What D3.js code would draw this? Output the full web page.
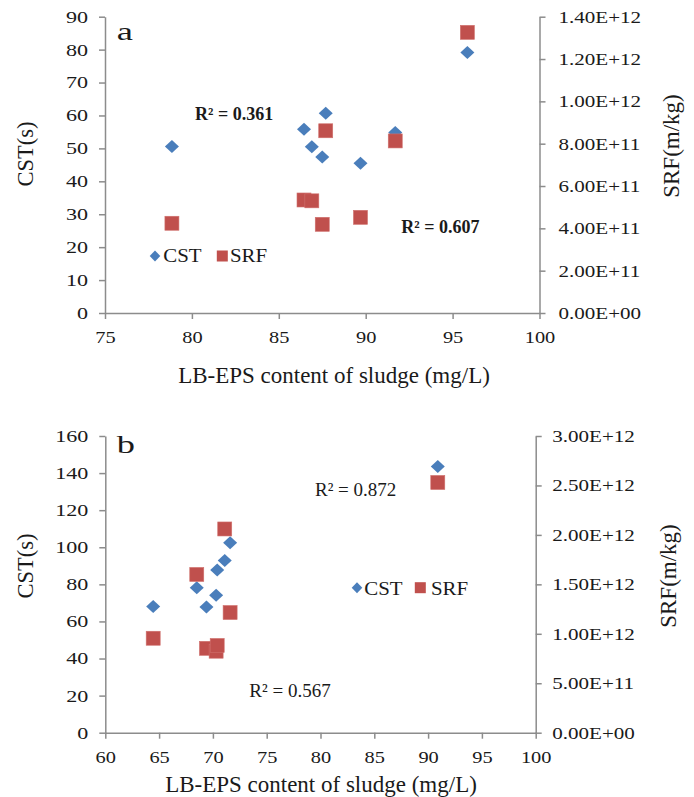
<!DOCTYPE html>
<html>
<head>
<meta charset="utf-8">
<script src="https://cdn.jsdelivr.net/npm/d3@7"></script>
<style>
  body { margin: 0; background: #fff; }
  svg { display: block; }
  text { font-family: "Liberation Serif", "Times New Roman", serif; fill: #1a1a1a; }
</style>
</head>
<body>
<svg id="chart" width="694" height="797"></svg>
<script>
// ---- panel a data ----
const lbA = [78.85, 86.45, 86.9, 87.5, 87.7, 89.7, 91.7, 95.85];
const cstA = [50.6, 55.8, 50.5, 47.4, 60.7, 45.5, 54.8, 79.1];
const srfA = [4.24e11, 5.34e11, 5.30e11, 4.19e11, 8.61e11, 4.52e11, 8.13e11, 1.326e12];
const xTicksA = [75, 80, 85, 90, 95, 100];
const cstTicksA = [0, 10, 20, 30, 40, 50, 60, 70, 80, 90];
const srfTicksA = [0, 2e11, 4e11, 6e11, 8e11, 1e12, 1.2e12, 1.4e12];
const r2A = ["R² = 0.361", "R² = 0.607"];

// ---- panel b data ----
const lbB = [64.45, 68.5, 69.4, 70.3, 70.4, 71.1, 71.6, 90.9];
const cstB = [68.0, 78.2, 67.8, 74.1, 87.8, 92.8, 102.5, 143.5];
const srfB = [9.55e11, 1.60e12, 8.53e11, 8.24e11, 8.82e11, 2.06e12, 1.215e12, 2.53e12];
const xTicksB = [60, 65, 70, 75, 80, 85, 90, 95, 100];
const cstTicksB = [0, 20, 40, 60, 80, 100, 120, 140, 160];
const srfTicksB = [0, 5e11, 1e12, 1.5e12, 2e12, 2.5e12, 3e12];
const r2B = ["R² = 0.872", "R² = 0.567"];

const seriesNames = ["CST", "SRF"];
const xTitle = "LB-EPS content of sludge (mg/L)";
const yTitle = "CST(s)";
const y2Title = "SRF(m/kg)";

const BLUE = "#4a7ebb", RED = "#c0504d", AXIS = "#8c8c8c";

const svg = d3.select("#chart");

// Excel style 1.40E+12
function sci(v) {
    if (v === 0) return "0.00E+00";
    const e = Math.floor(Math.log10(v) + 1e-9);
    const m = v / Math.pow(10, e);
    return m.toFixed(2) + "E+" + String(e).padStart(2, "0");
}

function diamond(w, h) {
    return `M0,${-h}L${w},0L0,${h}L${-w},0Z`;
}

// text that is widened horizontally like the source figure
function txt(g, x, y, s, size, sx) {
    return g.append("text")
        .attr("transform", `translate(${x},${y}) scale(${sx},1)`)
        .attr("font-size", size)
        .text(s);
}

function styleAxis(g) {
    g.select(".domain").attr("stroke", AXIS).attr("stroke-width", 1.5);
    g.selectAll(".tick line").attr("stroke", AXIS).attr("stroke-width", 1.5);
    g.selectAll(".tick text").attr("fill", "#1a1a1a").attr("font-family", null);
}

function drawPanel(p) {
    const g = svg.append("g");

    const x = d3.scaleLinear().domain(p.xDom).range([p.left, p.right]);
    const y = d3.scaleLinear().domain(p.yDom).range([p.bottom, p.top]);
    const y2 = d3.scaleLinear().domain(p.y2Dom).range([p.bottom, p.top]);

    // bottom axis
    const gx = g.append("g")
        .attr("transform", `translate(0,${p.bottom})`)
        .call(d3.axisBottom(x).tickValues(p.xTicks).tickSize(6).tickSizeOuter(0).tickPadding(12));
    styleAxis(gx);
    gx.selectAll(".tick text").attr("font-size", 17).attr("transform", "scale(1.2,1)");

    // left axis
    const gy = g.append("g")
        .attr("transform", `translate(${p.left},0)`)
        .call(d3.axisLeft(y).tickValues(p.yTicks).tickSize(6).tickSizeOuter(0));
    styleAxis(gy);
    gy.selectAll(".tick text").attr("font-size", 17)
        .attr("x", -17 / 1.3).attr("transform", "scale(1.3,1)");

    // right axis
    const gy2 = g.append("g")
        .attr("transform", `translate(${p.right},0)`)
        .call(d3.axisRight(y2).tickValues(p.y2Ticks).tickFormat(sci).tickSize(6).tickSizeOuter(0));
    styleAxis(gy2);
    gy2.selectAll(".tick text").attr("font-size", 17)
        .attr("x", p.rGap / 1.24).attr("transform", "scale(1.24,1)");

    // points
    g.append("g").selectAll("path")
        .data(p.xs.map((v, i) => [v, p.cst[i]]))
        .join("path")
        .attr("d", diamond(7, 6.5))
        .attr("transform", d => `translate(${x(d[0])},${y(d[1])})`)
        .attr("fill", BLUE);

    g.append("g").selectAll("rect")
        .data(p.xs.map((v, i) => [v, p.srf[i]]))
        .join("rect")
        .attr("x", d => x(d[0]) - 7)
        .attr("y", d => y2(d[1]) - 7)
        .attr("width", 14)
        .attr("height", 14)
        .attr("fill", RED)
        .attr("stroke", "#d0706d")
        .attr("stroke-width", 0.6);

    // panel letter
    txt(g, p.letterPos[0], p.letterPos[1], p.letter, 26, 1.4);

    // R² labels
    p.r2.forEach((s, i) => {
        txt(g, p.r2Pos[i][0], p.r2Pos[i][1], s, p.r2Size, 1)
            .attr("font-weight", p.r2Bold ? "bold" : "normal");
    });

    // legend
    const lg = p.legend;
    g.append("path").attr("d", diamond(5.3, 5.5))
        .attr("transform", `translate(${lg.dia[0]},${lg.dia[1]})`).attr("fill", BLUE);
    txt(g, lg.cstX, lg.base, seriesNames[0], 19, 1.1);
    g.append("rect").attr("x", lg.sq[0] - 5.5).attr("y", lg.sq[1] - 5.5)
        .attr("width", 11).attr("height", 11).attr("fill", RED);
    txt(g, lg.srfX, lg.base, seriesNames[1], 19, 1.1);

    // axis titles
    g.append("text")
        .attr("x", p.xTitlePos[0]).attr("y", p.xTitlePos[1])
        .attr("text-anchor", "middle").attr("font-size", 23)
        .text(xTitle);
    g.append("text")
        .attr("transform", `translate(${p.yTitlePos[0]},${p.yTitlePos[1]}) rotate(-90)`)
        .attr("text-anchor", "middle").attr("font-size", 22.5)
        .text(yTitle);
    g.append("text")
        .attr("transform", `translate(${p.y2TitlePos[0]},${p.y2TitlePos[1]}) rotate(-90)`)
        .attr("text-anchor", "middle").attr("font-size", 23)
        .text(y2Title);
}

drawPanel({
    left: 105, right: 539.5, top: 16.7, bottom: 313,
    xDom: [75, 100], yDom: [0, 90], y2Dom: [0, 1.4e12],
    xTicks: xTicksA, yTicks: cstTicksA, y2Ticks: srfTicksA, rGap: 19,
    xs: lbA, cst: cstA, srf: srfA,
    letter: "a", letterPos: [116.7, 40],
    r2: r2A, r2Pos: [[195, 119.5], [401.3, 233]], r2Size: 18, r2Bold: true,
    legend: { dia: [155, 256], cstX: 163.3, sq: [222.3, 256], srfX: 230, base: 262.3 },
    xTitlePos: [334, 383], yTitlePos: [33, 154], y2TitlePos: [679, 146]
});

drawPanel({
    left: 105.3, right: 535.7, top: 436, bottom: 732.7,
    xDom: [60, 100], yDom: [0, 160], y2Dom: [0, 3e12],
    xTicks: xTicksB, yTicks: cstTicksB, y2Ticks: srfTicksB, rGap: 16.5,
    xs: lbB, cst: cstB, srf: srfB,
    letter: "b", letterPos: [116.7, 453],
    r2: r2B, r2Pos: [[315, 495.5], [249.3, 697]], r2Size: 19, r2Bold: false,
    legend: { dia: [357, 587.7], cstX: 364.3, sq: [420.3, 587.7], srfX: 431, base: 595 },
    xTitlePos: [321, 792], yTitlePos: [33, 566], y2TitlePos: [675.5, 576]
});
</script>
</body>
</html>
